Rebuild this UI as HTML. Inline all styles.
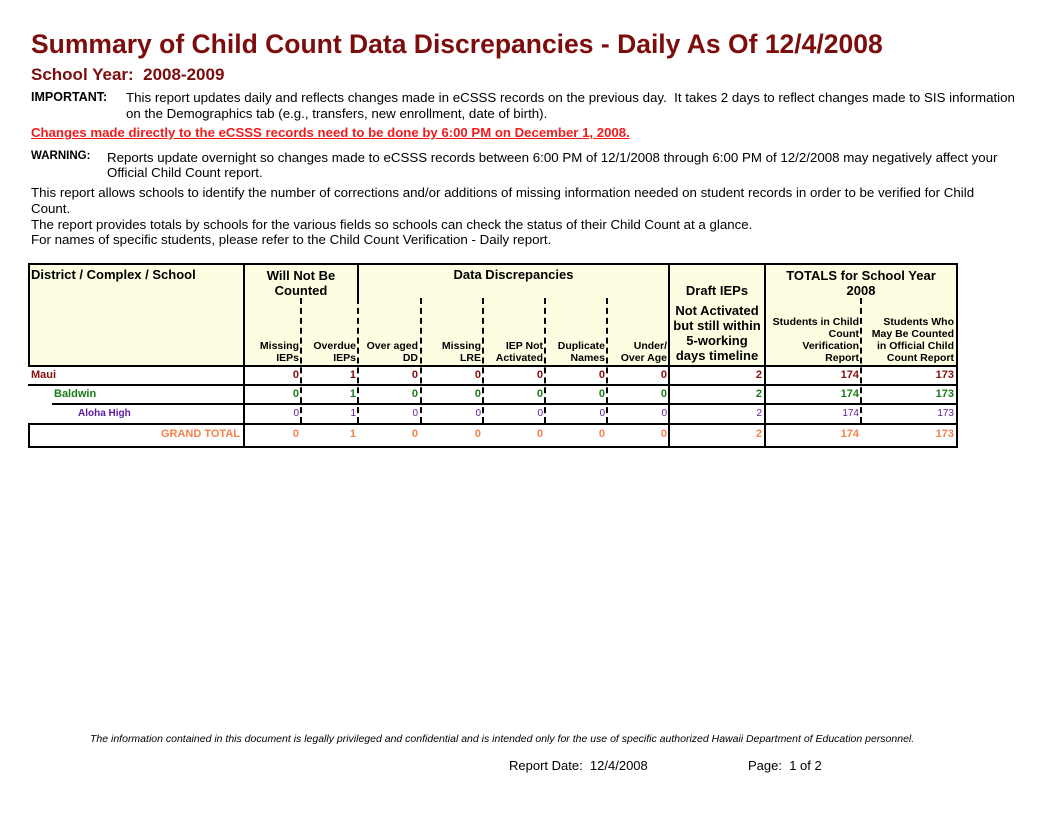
<!DOCTYPE html>
<html><head><meta charset="utf-8"><style>
body{margin:0;width:1060px;height:816px;background:#fff;position:relative;font-family:"Liberation Sans",Arial,sans-serif;overflow:hidden}
.t{position:absolute;white-space:nowrap;line-height:1}
.b{font-weight:bold}
.ln{position:absolute;background:#000}
.dv{position:absolute;width:0;border-left:2px dashed #000}
.hd{position:absolute;font-weight:bold;font-size:10.5px;text-align:right;line-height:12px}
.c{position:absolute;font-size:11px;font-weight:bold;text-align:right;line-height:19px}
</style></head><body>
<div class="t b" style="left:31px;top:31px;font-size:26.5px;color:#7d0c0c">Summary of Child Count Data Discrepancies - Daily As Of 12/4/2008</div>
<div class="t b" style="left:31px;top:66px;font-size:17px;color:#7d0c0c">School Year:&nbsp; 2008-2009</div>
<div class="t" style="left:31px;top:91px;font-size:12.5px"><b>IMPORTANT:</b></div>
<div class="t" style="left:126px;top:91px;font-size:13.3px">This report updates daily and reflects changes made in eCSSS records on the previous day.&nbsp; It takes 2 days to reflect changes made to SIS information</div>
<div class="t" style="left:126px;top:107px;font-size:13.3px">on the Demographics tab (e.g., transfers, new enrollment, date of birth).</div>
<div class="t b" style="left:31px;top:126px;font-size:13.2px;color:#f01c1c;text-decoration:underline">Changes made directly to the eCSSS records need to be done by 6:00 PM on December 1, 2008.</div>
<div class="t b" style="left:31px;top:151px;font-size:11.5px">WARNING:</div>
<div class="t" style="left:107px;top:151px;font-size:13.3px">Reports update overnight so changes made to eCSSS records between 6:00 PM of 12/1/2008 through 6:00 PM of 12/2/2008 may negatively affect your</div>
<div class="t" style="left:107px;top:166px;font-size:13.3px">Official Child Count report.</div>
<div class="t" style="left:31px;top:186px;font-size:13.3px">This report allows schools to identify the number of corrections and/or additions of missing information needed on student records in order to be verified for Child</div>
<div class="t" style="left:31px;top:202px;font-size:13.3px">Count.</div>
<div class="t" style="left:31px;top:218px;font-size:13.3px">The report provides totals by schools for the various fields so schools can check the status of their Child Count at a glance.</div>
<div class="t" style="left:31px;top:233px;font-size:13.3px">For names of specific students, please refer to the Child Count Verification - Daily report.</div>

<div style="position:absolute;left:28px;top:263px;width:929px;height:103px;background:#fdfde2"></div>
<div class="ln" style="left:28px;top:263px;width:930px;height:2px"></div>
<div class="ln" style="left:28px;top:263px;width:2px;height:104px"></div>
<div class="ln" style="left:956px;top:263px;width:2px;height:104px"></div>
<div class="ln" style="left:28px;top:365px;width:930px;height:2px"></div>
<div class="ln" style="left:243px;top:263px;width:2px;height:160px"></div>
<div class="ln" style="left:357px;top:263px;width:2px;height:35px"></div>
<div class="ln" style="left:668px;top:263px;width:2px;height:160px"></div>
<div class="ln" style="left:764px;top:263px;width:2px;height:160px"></div>
<div class="dv" style="left:300px;top:298px;height:125px"></div>
<div class="dv" style="left:357px;top:298px;height:125px"></div>
<div class="dv" style="left:420px;top:298px;height:125px"></div>
<div class="dv" style="left:482px;top:298px;height:125px"></div>
<div class="dv" style="left:544px;top:298px;height:125px"></div>
<div class="dv" style="left:606px;top:298px;height:125px"></div>
<div class="dv" style="left:860px;top:298px;height:125px"></div>
<div class="ln" style="left:28px;top:384px;width:930px;height:2px"></div>
<div class="ln" style="left:52px;top:403px;width:906px;height:1.5px"></div>
<div class="ln" style="left:28px;top:423px;width:930px;height:2px"></div>
<div class="ln" style="left:28px;top:446px;width:930px;height:2px"></div>
<div class="ln" style="left:28px;top:423px;width:2px;height:25px"></div>
<div class="ln" style="left:956px;top:366px;width:2px;height:82px"></div>
<div class="ln" style="left:243px;top:423px;width:2px;height:25px"></div>
<div class="ln" style="left:668px;top:423px;width:2px;height:25px"></div>
<div class="ln" style="left:764px;top:423px;width:2px;height:25px"></div>

<div class="t b" style="left:31px;top:268px;font-size:13px">District / Complex / School</div>
<div class="t b" style="left:245px;top:268px;width:112px;text-align:center;font-size:13px;line-height:15px;white-space:normal">Will Not Be Counted</div>
<div class="t b" style="left:359px;top:268px;width:309px;text-align:center;font-size:13px">Data Discrepancies</div>
<div class="t b" style="left:670px;top:284px;width:94px;text-align:center;font-size:13px">Draft IEPs</div>
<div class="t b" style="left:670px;top:303px;width:94px;text-align:center;font-size:13px;line-height:15px;white-space:normal">Not Activated but still within 5-working days timeline</div>
<div class="t b" style="left:766px;top:268px;width:190px;text-align:center;font-size:13px;line-height:15px">TOTALS for School Year<br>2008</div>

<div class="hd" style="left:245px;top:340px;width:54px">Missing<br>IEPs</div>
<div class="hd" style="left:302px;top:340px;width:54px">Overdue<br>IEPs</div>
<div class="hd" style="left:359px;top:340px;width:59px">Over aged<br>DD</div>
<div class="hd" style="left:422px;top:340px;width:59px">Missing<br>LRE</div>
<div class="hd" style="left:484px;top:340px;width:59px">IEP Not<br>Activated</div>
<div class="hd" style="left:546px;top:340px;width:59px">Duplicate<br>Names</div>
<div class="hd" style="left:608px;top:340px;width:59px">Under/<br>Over Age</div>
<div class="hd" style="left:766px;top:316px;width:93px">Students in Child<br>Count<br>Verification<br>Report</div>
<div class="hd" style="left:862px;top:316px;width:92px">Students Who<br>May Be Counted<br>in Official Child<br>Count Report</div>

<div class="c" style="left:31px;top:366px;text-align:left;color:#8b0c0c">Maui</div>
<div style="color:#8b0c0c">
<div class="c" style="left:245px;top:366px;width:54px">0</div><div class="c" style="left:302px;top:366px;width:54px">1</div><div class="c" style="left:359px;top:366px;width:59px">0</div><div class="c" style="left:422px;top:366px;width:59px">0</div><div class="c" style="left:484px;top:366px;width:59px">0</div><div class="c" style="left:546px;top:366px;width:59px">0</div><div class="c" style="left:608px;top:366px;width:59px">0</div><div class="c" style="left:670px;top:366px;width:92px">2</div><div class="c" style="left:766px;top:366px;width:93px">174</div><div class="c" style="left:862px;top:366px;width:92px">173</div>
</div>
<div class="c" style="left:54px;top:385px;text-align:left;color:#1a7a1a">Baldwin</div>
<div style="color:#1a7a1a">
<div class="c" style="left:245px;top:385px;width:54px">0</div><div class="c" style="left:302px;top:385px;width:54px">1</div><div class="c" style="left:359px;top:385px;width:59px">0</div><div class="c" style="left:422px;top:385px;width:59px">0</div><div class="c" style="left:484px;top:385px;width:59px">0</div><div class="c" style="left:546px;top:385px;width:59px">0</div><div class="c" style="left:608px;top:385px;width:59px">0</div><div class="c" style="left:670px;top:385px;width:92px">2</div><div class="c" style="left:766px;top:385px;width:93px">174</div><div class="c" style="left:862px;top:385px;width:92px">173</div>
</div>
<div class="c" style="left:78px;top:404px;text-align:left;color:#5a1aa0;font-size:10px">Aloha High</div>
<div style="color:#5a1aa0">
<div class="c" style="left:245px;top:404px;width:54px;font-weight:normal;font-size:10px">0</div><div class="c" style="left:302px;top:404px;width:54px;font-weight:normal;font-size:10px">1</div><div class="c" style="left:359px;top:404px;width:59px;font-weight:normal;font-size:10px">0</div><div class="c" style="left:422px;top:404px;width:59px;font-weight:normal;font-size:10px">0</div><div class="c" style="left:484px;top:404px;width:59px;font-weight:normal;font-size:10px">0</div><div class="c" style="left:546px;top:404px;width:59px;font-weight:normal;font-size:10px">0</div><div class="c" style="left:608px;top:404px;width:59px;font-weight:normal;font-size:10px">0</div><div class="c" style="left:670px;top:404px;width:92px;font-weight:normal;font-size:10px">2</div><div class="c" style="left:766px;top:404px;width:93px;font-weight:normal;font-size:10px">174</div><div class="c" style="left:862px;top:404px;width:92px;font-weight:normal;font-size:10px">173</div>
</div>
<div style="color:#f7814a">
<div class="c" style="left:31px;top:425px;width:209px">GRAND TOTAL</div>
<div class="c" style="left:245px;top:425px;width:54px">0</div><div class="c" style="left:302px;top:425px;width:54px">1</div><div class="c" style="left:359px;top:425px;width:59px">0</div><div class="c" style="left:422px;top:425px;width:59px">0</div><div class="c" style="left:484px;top:425px;width:59px">0</div><div class="c" style="left:546px;top:425px;width:59px">0</div><div class="c" style="left:608px;top:425px;width:59px">0</div><div class="c" style="left:670px;top:425px;width:92px">2</div><div class="c" style="left:766px;top:425px;width:93px">174</div><div class="c" style="left:862px;top:425px;width:92px">173</div>
</div>

<div class="t" style="left:90px;top:734px;font-size:10.5px;font-style:italic">The information contained in this document is legally privileged and confidential and is intended only for the use of specific authorized Hawaii Department of Education personnel.</div>
<div class="t" style="left:509px;top:759px;font-size:13px">Report Date:&nbsp; 12/4/2008</div>
<div class="t" style="left:748px;top:759px;font-size:13px">Page:&nbsp; 1 of 2</div>
</body></html>
